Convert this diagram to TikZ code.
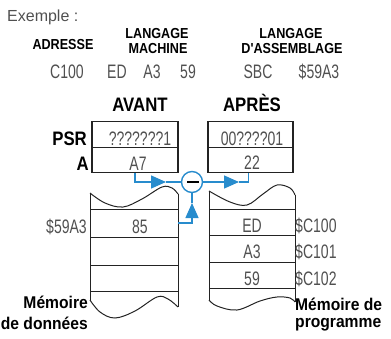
\documentclass[tikz,border=0pt]{standalone}
\usepackage{fontspec}
\setmainfont{Liberation Sans}
\newfontfamily\regc[FakeStretch=0.72]{Liberation Sans}
\newfontfamily\boldc[FakeStretch=0.86]{Liberation Sans Bold}
\newfontfamily\boldh[FakeStretch=0.87]{Liberation Sans Bold}
\newfontfamily\boldw[FakeStretch=0.92]{Liberation Sans Bold}
\newfontfamily\exf{Liberation Sans}
\usetikzlibrary{arrows.meta}
\definecolor{txtgray}{RGB}{80,80,80}
\definecolor{opblue}{RGB}{40,140,205}
\definecolor{ink}{RGB}{35,35,35}
\begin{document}
\begin{tikzpicture}[x=1pt,y=-1pt,
  val/.style={inner sep=0pt, anchor=base, text=txtgray, font=\regc\fontsize{19.5}{19.5}\selectfont},
  head/.style={inner sep=0pt, anchor=base, text=black, font=\boldh\fontsize{14.5}{14.5}\selectfont},
  big/.style={inner sep=0pt, anchor=base, text=black, font=\boldc\fontsize{19.5}{19.5}\selectfont},
  memlab/.style={inner sep=0pt, text=black, font=\boldw\fontsize{17}{17}\selectfont},
  cell/.style={draw=ink, line width=1.2pt, minimum width=86pt, minimum height=25.5pt, inner sep=0pt},
  strip/.style={draw=ink, line width=1pt},
  flow/.style={draw=opblue, line width=1.4pt},
  tip/.style={-{Triangle[length=15pt,width=13pt]}},
]
\useasboundingbox (0,0) rectangle (391,338);

% top example
\node[inner sep=0pt, anchor=base west, text=txtgray, font=\exf\fontsize{16}{16}\selectfont] (ex) at (7,21) {Exemple :};
\node[head] (hadr) at (63,49) {ADRESSE};
\node[head] (hlm1) at (157,38) {LANGAGE};
\node[head] (hlm2) at (158,53) {MACHINE};
\node[head] (hla1) at (291,38) {LANGAGE};
\node[head] (hla2) at (292,53) {D'ASSEMBLAGE};
\node[val] (vc100) at (67,78) {C100};
\node[val] (ved0) at (117,78) {ED};
\node[val] (va30) at (152,78) {A3};
\node[val] (v590) at (188,78) {59};
\node[val] (vsbc) at (258,78) {SBC};
\node[val] (vaddr) at (319,78) {\$59A3};

% titles
\node[big] (avant) at (140,111) {AVANT};
\node[big] (apres) at (252,111) {APRÈS};

% registers
\node[cell] (psrL) at (135,134.5) {};
\node[cell] (aL) at (135,160) {};
\node[cell, minimum width=85pt] (psrR) at (250.5,134.5) {};
\node[cell, minimum width=85pt] (aR) at (250.5,160) {};
\node[big, anchor=base east] (lpsr) at (87,145) {PSR};
\node[big, anchor=base east] (la) at (89,170) {A};
\node[val] (tpsrL) at (140,145) {???????1};
\node[val] (taL) at (138,170) {A7};
\node[val] (tpsrR) at (252,145) {00????01};
\node[val] (taR) at (252,169) {22};

% left memory strip
\draw[strip] plot[smooth,tension=0.6] coordinates {(90,193) (105,203) (123,207) (142,199) (162,187) (172,188) (178,194)};
\draw[strip] (90,193) -- (90,300);
\draw[strip] (178,194) -- (178,307);
\draw[strip] plot[smooth,tension=0.6] coordinates {(90,300) (100,312) (115,318) (135,311) (157,297) (168,299) (178,307)};
\foreach \yy in {209,237,265,291} \draw[strip] (90,\yy) -- (178,\yy);
\node[val] (v85) at (140,233) {85};
\node[val, anchor=base east] (l59a3) at (87,233) {\$59A3};
\node[memlab, anchor=base east] (mem1) at (88,308) {Mémoire};
\node[memlab, anchor=base east] (mem2) at (88,329) {de données};

% right memory strip
\draw[strip] plot[smooth,tension=0.6] coordinates {(209,191) (230,202) (247,205) (263,194) (277,185) (290,188) (295,195)};
\draw[strip] (209,191) -- (209,300);
\draw[strip] (295,195) -- (295,302);
\draw[strip] plot[smooth,tension=0.6] coordinates {(209,300) (217,306) (237,310) (260,301) (277,297) (290,298) (295,302)};
\foreach \yy in {209,235,262,288} \draw[strip] (209,\yy) -- (295,\yy);
\node[val] (ved) at (252,232) {ED};
\node[val] (va3) at (252,258) {A3};
\node[val] (v59) at (252,285) {59};
\node[val, anchor=base west] (lc100) at (295,232) {\$C100};
\node[val, anchor=base west] (lc101) at (295,258) {\$C101};
\node[val, anchor=base west] (lc102) at (295,285) {\$C102};
\node[memlab, anchor=base west] (mem3) at (295,310) {Mémoire de};
\node[memlab, anchor=base west] (mem4) at (295,327) {programme};

% operator
\node[circle, draw=opblue, line width=1.4pt, minimum size=21pt, inner sep=0pt, fill=white] (op) at (192,182) {};
\draw[black, line width=2pt] ([xshift=-5pt]op.center) -- ([xshift=7pt]op.center);

\coordinate (t1) at (166,182);
\coordinate (s85) at (178,223);
\coordinate (t2) at (192,203);
\coordinate (t3) at (239,182);
\draw[flow,tip] (aL.south) |- (t1);
\draw[flow] (t1) -- (op.west);
\draw[flow,tip] (s85) -| (t2);
\draw[flow] (t2) -- (op.south);
\draw[flow,tip] (op.east) -- (t3);
\draw[flow] (t3) -| ([xshift=-2pt]aR.south);
\end{tikzpicture}
\end{document}
